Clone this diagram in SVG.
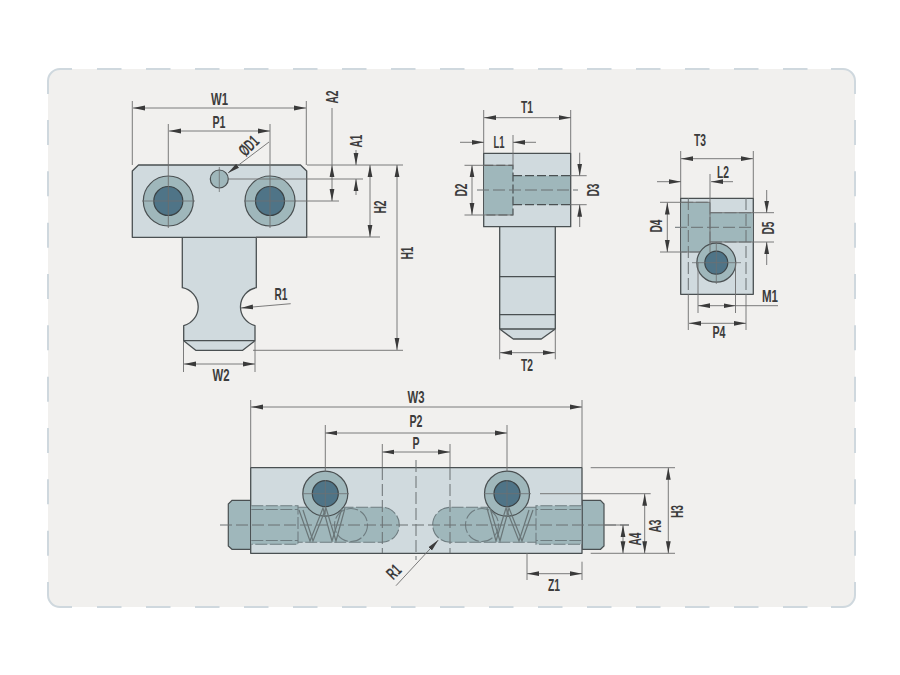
<svg xmlns="http://www.w3.org/2000/svg" width="900" height="675" viewBox="0 0 900 675">
<style>
.b{fill:#d0dade;stroke:#4a5052;stroke-width:1.3;stroke-linejoin:round}
.m{fill:#9fb7bb;stroke:#4a5052;stroke-width:1.2}
.k{fill:#4f7487;stroke:#3b4346;stroke-width:1.2}
.p{fill:#9fb7bb;stroke:none}
.h{fill:none;stroke:#4a5052;stroke-width:1.2;stroke-dasharray:9 3}
.g{fill:none;stroke:#6f7d81;stroke-width:1.1;stroke-dasharray:12 2.5}
.f{fill:none;stroke:#6a7072;stroke-width:1;stroke-dasharray:12 4}
.s{fill:none;stroke:#6a7678;stroke-width:1.2}
.c{fill:none;stroke:#6d7072;stroke-width:.8}
.l{fill:none;stroke:#6d6d6d;stroke-width:.9}
.a{marker-start:url(#ar);marker-end:url(#ar)}
.e{marker-end:url(#ar)}
.bd{fill:none;stroke:#cfd8de;stroke-width:2}
text{font-family:"Liberation Sans",Arial,sans-serif;font-size:17px;font-weight:700;fill:#3c3c3c;text-anchor:middle;dominant-baseline:central}
</style>
<defs>
<marker id="ar" markerUnits="userSpaceOnUse" markerWidth="12" markerHeight="6" refX="12" refY="3" orient="auto-start-reverse" viewBox="0 0 12 6"><path d="M12,3 L0,.6 L0,5.4 z" fill="#3a3a3a"/></marker>
</defs>
<g id="panel">
<rect x="48" y="69" width="807" height="538" rx="12" fill="#f1f0ee"/>
<path class="bd" d="M48,94V81A12,12 0 0 1 60,69H72M831,69H843A12,12 0 0 1 855,81V94M855,582V595A12,12 0 0 1 843,607H831M72,607H60A12,12 0 0 1 48,595V582"/>
<path class="bd" stroke-dasharray="24.5 24.5" d="M97,69H808M97,607H808"/>
<path class="bd" stroke-dasharray="25 26.33" d="M48,120V556M855,120V556"/>
</g>
<g id="view-front">
<path class="b" d="M182.3,237V287.7A19.5,19.5 0 0 1 183.7,325.7V340.7L195.7,350.3H242.7L255,340.7V325.7A19.5,19.5 0 0 1 256.3,287.7V237Z"/>
<path class="b" d="M183.7,340.7H255" fill="none"/>
<path class="b" d="M138.5,165H300.5L306.7,171V237.3H132.3V171Z"/>
<circle class="m" cx="168.3" cy="201" r="25"/><circle class="k" cx="168.3" cy="201" r="14.5"/>
<circle class="m" cx="270" cy="201" r="25"/><circle class="k" cx="270" cy="201" r="14.5"/>
<circle class="m" cx="219.3" cy="179" r="9"/>
<path class="c" d="M142,201H195M244,201H296M219.3,167V192"/>
</g>
<g id="view-side">
<path class="b" d="M499.7,226V329L513.3,339H541.3L555.3,329V226Z"/>
<path class="b" d="M499.7,276.7H555.3M499.7,314.7H555.3M499.7,329H555.3" fill="none"/>
<rect class="b" x="483.7" y="153.3" width="87" height="73.4"/>
<path class="p" d="M484.3,165.3H513V175.7H570V204.7H513V215H484.3Z"/>
<path class="h" d="M484.3,165.3H513V215H484.3M513,175.7H570M513,204.7H570"/>
<path class="f" d="M477,190H578"/>
</g>
<g id="view-end">
<rect class="b" x="680.7" y="198.3" width="72.6" height="96"/>
<path class="p" d="M681.3,202.3H710V212.7H752.7V242H710V252H681.3Z"/>
<path class="g" d="M681.3,202.3H710V252H681.3M710,212.7H752.7M710,242H752.7"/>
<path class="f" d="M688.3,198V294M746,198V294"/>
<circle class="m" cx="716.3" cy="262.7" r="19.5"/><circle class="k" cx="716.3" cy="262.7" r="11.5"/>
<path class="f" d="M675,227.3H755"/>
<path class="c" d="M692,262.7H741M716.3,242V284"/>
</g>
<g id="view-bottom">
<path class="m" d="M232,500.3H250.7V549.3H232L228.3,546V504Z"/>
<path class="m" d="M582,500.3H600.5L604,504V546L600.5,549.3H582Z"/>
<rect class="b" x="250.7" y="467.7" width="331.3" height="85.6"/>
<path class="p" d="M251.3,505.7H298V507.3H381.8A17.5,17.5 0 0 1 381.8,542.3H298V544.3H251.3Z"/>
<path class="p" d="M581.4,505.7H536V507.3H450.2A17.5,17.5 0 0 0 450.2,542.3H536V544.3H581.4Z"/>
<path class="g" d="M251.3,505.7H298V544.3H251.3M251.3,509.5H298M251.3,540.5H298M298,507.3H381.8A17.5,17.5 0 0 1 381.8,542.3H298"/>
<path class="g" d="M581.4,505.7H536V544.3H581.4M581.4,509.5H536M581.4,540.5H536M536,507.3H450.2A17.5,17.5 0 0 0 450.2,542.3H536"/>
<circle class="g" cx="351" cy="525" r="16.5"/><circle class="g" cx="482" cy="525" r="16.5"/>
<path class="f" d="M382.3,468V553M450,468V553"/>
<path class="f" d="M416,460V560"/>
<path class="f" d="M220,525H629"/>
<circle class="m" cx="325.3" cy="493.7" r="22.5"/><circle class="k" cx="325.3" cy="493.7" r="13"/>
<circle class="m" cx="507" cy="493.7" r="22.5"/><circle class="k" cx="507" cy="493.7" r="13"/>
<path class="c" d="M302,493.7H349M325.3,514V480M484,493.7H531M507,514V480"/>
<path class="s" d="M299,510L310,541L323,508L332,541L342,508"/>
<path class="s" d="M303,510L313,541L326,508L336,541L345,508"/>
<path class="s" d="M533,510L522,541L509,508L500,541L490,508"/>
<path class="s" d="M529,510L519,541L506,508L496,541L487,508"/>
</g>
<g id="connectors">
<path class="l" d="M132.3,101V165M306.3,101V165M168.3,124V228M270,124V228M307,165H403M228,179H363M295,201H339M256,237H380M253,350.3H403M183.5,341V372M255,341V372"/>
<path class="l a" d="M133,108H306"/>
<path class="l a" d="M169,131H270"/>
<path class="l e" d="M269,142L228,173"/>
<path class="l" d="M332,108V165"/>
<path class="l a" d="M332,165V201"/>
<path class="l e" d="M356,150V165"/>
<path class="l e" d="M356,195V179"/>
<path class="l a" d="M370,165V237"/>
<path class="l a" d="M397,165V350"/>
<path class="l a" d="M184,364H255"/>
<path class="l e" d="M290.7,303.7L241,308"/>
<path class="l" d="M483.7,110V153M570.7,110V153M513,135V165M464.5,165.3H513M464.5,215H513M570,175.7H586.7M570,204.7H586.7M499.7,329V359.3M555.3,329V359.3"/>
<path class="l a" d="M484,117.7H571"/>
<path class="l e" d="M460,142.3H484"/>
<path class="l e" d="M536,142.3H513"/>
<path class="l a" d="M472,165.3V215"/>
<path class="l e" d="M579.7,152.7V175.7"/>
<path class="l e" d="M579.7,227V204.7"/>
<path class="l a" d="M500,352.7H555"/>
<path class="l" d="M680.7,151V198M753.3,151V198M710,174V252M660,202.3H710M660,252H700M710,212.7H774M710,242H774M698,262V313M735.5,262V313M735,305.7H778M688.3,294V330M746,294V330"/>
<path class="l a" d="M681,158.7H753"/>
<path class="l e" d="M657,181.7H681"/>
<path class="l e" d="M733,181.7H711"/>
<path class="l a" d="M667.3,202.5V252"/>
<path class="l e" d="M766.7,190V212.7"/>
<path class="l e" d="M766.7,265V242"/>
<path class="l a" d="M698,305.7H735.5"/>
<path class="l a" d="M689,323.3H746"/>
<path class="l" d="M250.7,400V467M582,400V467M325.3,425V471M507,425V471M382.3,444V467M450,444V467M590.7,467.7H675M590.7,553.3H675M540,493.7H650.7M600,525H629M527,553V580M582,561.7V580"/>
<path class="l a" d="M251,407H582"/>
<path class="l a" d="M325.3,433H507"/>
<path class="l a" d="M382.3,452H450"/>
<path class="l e" d="M396,585.7L438.3,540"/>
<path class="l a" d="M668.3,467.7V553.3"/>
<path class="l a" d="M644.7,493.7V553.3"/>
<path class="l a" d="M623,525V553.3"/>
<path class="l a" d="M527,573.7H582"/>
</g>
<g id="labels">
<text x="219.5" y="99" textLength="17" lengthAdjust="spacingAndGlyphs">W1</text>
<text x="219" y="122" textLength="13" lengthAdjust="spacingAndGlyphs">P1</text>
<text transform="translate(249,146) rotate(-45)" textLength="21" lengthAdjust="spacingAndGlyphs">ØD1</text>
<text transform="translate(332,97) rotate(-90)" textLength="13" lengthAdjust="spacingAndGlyphs">A2</text>
<text transform="translate(356,141) rotate(-90)" textLength="13" lengthAdjust="spacingAndGlyphs">A1</text>
<text transform="translate(380,207) rotate(-90)" textLength="13" lengthAdjust="spacingAndGlyphs">H2</text>
<text transform="translate(407,253) rotate(-90)" textLength="13" lengthAdjust="spacingAndGlyphs">H1</text>
<text x="281" y="294.5" textLength="13" lengthAdjust="spacingAndGlyphs">R1</text>
<text x="221" y="375" textLength="17" lengthAdjust="spacingAndGlyphs">W2</text>
<text x="527" y="107" textLength="12" lengthAdjust="spacingAndGlyphs">T1</text>
<text x="499" y="142" textLength="11" lengthAdjust="spacingAndGlyphs">L1</text>
<text transform="translate(461,190) rotate(-90)" textLength="13" lengthAdjust="spacingAndGlyphs">D2</text>
<text transform="translate(593,190) rotate(-90)" textLength="13" lengthAdjust="spacingAndGlyphs">D3</text>
<text x="527" y="365" textLength="12" lengthAdjust="spacingAndGlyphs">T2</text>
<text x="700" y="140.5" textLength="12" lengthAdjust="spacingAndGlyphs">T3</text>
<text x="723" y="172" textLength="12" lengthAdjust="spacingAndGlyphs">L2</text>
<text transform="translate(656,226) rotate(-90)" textLength="13" lengthAdjust="spacingAndGlyphs">D4</text>
<text transform="translate(768,228) rotate(-90)" textLength="13" lengthAdjust="spacingAndGlyphs">D5</text>
<text x="770" y="296" textLength="16" lengthAdjust="spacingAndGlyphs">M1</text>
<text x="719" y="332" textLength="13" lengthAdjust="spacingAndGlyphs">P4</text>
<text x="416" y="397" textLength="17" lengthAdjust="spacingAndGlyphs">W3</text>
<text x="416" y="421" textLength="13" lengthAdjust="spacingAndGlyphs">P2</text>
<text x="416" y="443" textLength="7" lengthAdjust="spacingAndGlyphs">P</text>
<text transform="translate(394,572) rotate(-45)" textLength="13" lengthAdjust="spacingAndGlyphs">R1</text>
<text x="554" y="585" textLength="12" lengthAdjust="spacingAndGlyphs">Z1</text>
<text transform="translate(635,539) rotate(-90)" textLength="13" lengthAdjust="spacingAndGlyphs">A4</text>
<text transform="translate(655.5,526) rotate(-90)" textLength="13" lengthAdjust="spacingAndGlyphs">A3</text>
<text transform="translate(677.5,511.5) rotate(-90)" textLength="13" lengthAdjust="spacingAndGlyphs">H3</text>
</g>
</svg>
